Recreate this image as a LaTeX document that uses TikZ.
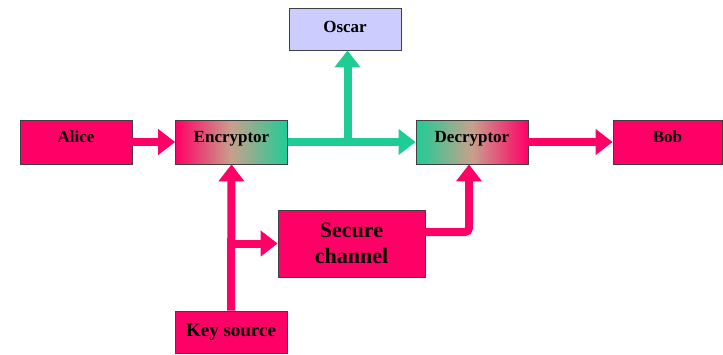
\documentclass[tikz,border=0pt]{standalone}
\usepackage{fontspec}
\setmainfont{Liberation Serif}
\usetikzlibrary{arrows.meta}
\definecolor{pk}{HTML}{FF0066}
\definecolor{gr}{HTML}{1FCC96}
\definecolor{lav}{HTML}{CCCCFF}
\definecolor{mid}{HTML}{C8A08C}
\begin{document}
\begin{tikzpicture}[x=1pt,y=-1pt,
  box/.style={draw=black!75, line width=0.8pt, minimum height=44pt, minimum width=112pt, inner sep=0pt, text height=8pt, text depth=7pt, font=\bfseries\fontsize{17}{19}\selectfont},
  arr/.style={line width=8pt, -{Triangle[width=25pt,length=17pt]}},
  ln/.style={line width=8pt}]
\useasboundingbox (0,0) rectangle (723,354);
\node[box, fill=pk] (alice) at (76,142) {Alice};
\node[box, left color=pk, right color=gr, middle color=mid] (enc) at (231.5,142) {Encryptor};
\node[box, fill=lav, minimum height=42pt, text height=10pt, text depth=4pt] (oscar) at (345,29) {Oscar};
\node[box, left color=gr, right color=pk, middle color=mid] (dec) at (472,142) {Decryptor};
\node[box, fill=pk, minimum width=109pt] (bob) at (667.5,142) {Bob};
\node[box, fill=pk, minimum width=147pt, minimum height=67pt, align=center, text height=, text depth=, font=\bfseries\fontsize{22}{26}\selectfont] (sec) at (351.5,243.5) {Secure\\channel};
\node[box, fill=pk, minimum height=42pt, text height=12pt, text depth=2.6pt, font=\bfseries\fontsize{19}{21}\selectfont] (key) at (231,332) {Key source};
\coordinate (b1) at (347.5,142);
\coordinate (b2) at (231,243.5);
\coordinate (c1) at (469,232);
\draw[arr, pk] (alice) -- (enc);
\draw[arr, gr] (enc) -- (dec);
\draw[arr, gr] (b1) -- (b1 |- oscar.south);
\draw[arr, pk] (dec) -- (bob);
\draw[arr, pk] (key.north) -- (enc.south);
\draw[arr, pk] (b2) -- (sec.west |- b2);
\draw[arr, pk, rounded corners=4pt] (sec.east |- c1) -- (c1) -- (c1 |- dec.south);
\end{tikzpicture}
\end{document}
